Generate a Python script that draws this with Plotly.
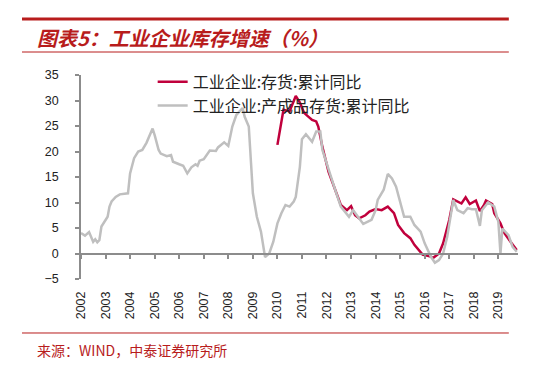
import plotly.graph_objects as go

# ---------------- data ----------------
grey_dates = ["2002-01","2002-03","2002-05","2002-07","2002-08","2002-09","2002-10","2002-11",
              "2003-02","2003-03","2003-04","2003-06","2003-08","2003-11","2003-12",
              "2004-01","2004-03","2004-05","2004-07","2004-09","2004-12",
              "2005-01","2005-03","2005-04","2005-07","2005-09","2005-10",
              "2006-01","2006-03","2006-05","2006-07","2006-09","2006-10","2006-11",
              "2007-01","2007-04","2007-07","2007-08","2007-11",
              "2008-01","2008-03","2008-05","2008-08","2008-09","2008-11",
              "2009-01","2009-03","2009-05","2009-06","2009-07","2009-09","2009-11",
              "2010-01","2010-03","2010-05","2010-07","2010-09","2010-10","2010-12",
              "2011-01","2011-03","2011-06","2011-08","2011-10","2011-11",
              "2012-02","2012-05","2012-08","2012-12",
              "2013-02","2013-05","2013-07","2013-11",
              "2014-01","2014-02","2014-05","2014-07","2014-09","2014-11",
              "2015-01","2015-03","2015-06","2015-08","2015-11",
              "2016-01","2016-04","2016-06","2016-08","2016-10","2016-12",
              "2017-03","2017-05","2017-08","2017-10","2017-12",
              "2018-02","2018-04","2018-05","2018-08","2018-11",
              "2019-01","2019-02","2019-03","2019-06","2019-08","2019-10"]
grey_values = [4.0,3.5,4.2,2.3,2.8,2.2,2.6,5.3,
               7.2,9.2,10.2,11.1,11.6,11.8,11.8,
               15.7,18.7,20.0,20.3,21.7,24.5,
               23.2,20.3,19.6,19.1,19.3,18.0,
               17.5,17.2,15.7,16.9,17.5,17.2,18.2,
               18.5,20.2,20.1,20.8,21.8,
               21.1,24.9,27.2,28.5,26.8,24.9,
               11.8,7.2,4.3,1.3,-0.7,0.0,2.3,
               5.9,7.9,9.5,9.2,10.2,11.1,17.0,
               22.4,23.4,21.9,23.9,23.9,20.3,
               16.4,12.8,9.2,7.2,
               8.5,6.9,5.8,6.6,
               8.5,10.5,12.5,15.6,14.7,13.1,
               9.8,7.2,7.2,5.6,4.3,
               2.0,-0.6,-1.8,-1.3,0.0,3.3,
               10.5,8.5,7.9,8.9,8.7,
               8.7,5.4,8.5,10.0,9.2,
               6.2,0.0,4.9,3.6,1.3,0.35]

red_dates = ["2010-01","2010-04","2010-07","2010-10","2010-12",
             "2011-02","2011-04","2011-06","2011-08","2011-09","2011-11",
             "2012-02","2012-05","2012-08","2012-11",
             "2013-01","2013-03","2013-05","2013-08","2013-10",
             "2014-01","2014-04","2014-07","2014-10","2014-12",
             "2015-03","2015-06","2015-08","2015-12",
             "2016-04","2016-05","2016-08","2016-10",
             "2017-01","2017-03","2017-05","2017-07","2017-09","2017-11",
             "2018-02","2018-04","2018-06","2018-07","2018-10","2018-11",
             "2019-02","2019-04","2019-07","2019-10"]
red_values = [21.3,28.2,27.9,30.9,29.6,
              27.6,26.9,26.2,25.9,24.9,20.9,
              16.0,12.8,9.5,8.5,
              9.3,7.5,6.9,7.5,8.2,
              8.7,8.5,9.2,7.9,5.6,
              4.0,3.0,1.7,-0.2,
              -0.6,-0.9,0.0,2.0,
              6.6,10.6,10.2,9.8,11.0,9.7,
              10.4,8.3,9.5,10.4,9.7,7.9,
              5.9,4.0,2.3,0.7]

red_name = "工业企业:存货:累计同比"
grey_name = "工业企业:产成品存货:累计同比"
title_text = "图表5：工业企业库存增速（%）"
source_text = "来源：WIND，中泰证券研究所"
y_ticks = [-5, 0, 5, 10, 15, 20, 25, 30, 35]

RED = "#C0003C"
GREY = "#BFBFBF"
AXIS = "#8C8C8C"
TITLE_RED = "#B81C1C"
CJK = "Noto Sans CJK SC"

fig = go.Figure()
fig.add_trace(go.Scatter(x=red_dates, y=red_values, name=red_name, mode="lines",
                         line=dict(color=RED, width=2.5), legendgroup="a"))
fig.add_trace(go.Scatter(x=grey_dates, y=grey_values, name=grey_name, mode="lines",
                         line=dict(color=GREY, width=2.5), legendgroup="b"))
# carrier for the zero-line axis (invisible)
fig.add_trace(go.Scatter(x=grey_dates, y=grey_values, xaxis="x2", mode="lines",
                         line=dict(width=0, color="rgba(0,0,0,0)"), showlegend=False,
                         hoverinfo="skip"))

xr = ["2002-01-01", "2019-10-20"]
fig.update_layout(
    template="none",
    width=551, height=371,
    margin=dict(l=81, r=33, t=75, b=92, autoexpand=False),
    paper_bgcolor="white", plot_bgcolor="white",
    showlegend=True,
    legend=dict(x=0.164, y=1.05, xanchor="left", yanchor="top",
                font=dict(family=CJK, size=16, color="#222"),
                bgcolor="rgba(0,0,0,0)", tracegroupgap=0, itemwidth=30),
    xaxis=dict(type="date", range=xr, tick0="2002-01-01", dtick="M12", tickformat="%Y",
               tickangle=-90, showline=False, ticks="", showgrid=False, zeroline=False,
               automargin=False,
               tickfont=dict(family="Liberation Sans, Arial", size=12.5, color="#222"),
               ticklabelstandoff=9),
    xaxis2=dict(type="date", range=xr, matches="x", overlaying="x", anchor="free",
                position=0.125, tick0="2002-01-01", dtick="M12", showticklabels=False,
                ticks="outside", ticklen=5, tickcolor=AXIS, tickwidth=1.5, automargin=False,
                showline=True, linecolor=AXIS, linewidth=1.5, showgrid=False, zeroline=False),
    yaxis=dict(range=[-5, 35], tickvals=y_ticks, showline=True, linecolor=AXIS, linewidth=1.5,
               ticks="outside", ticklen=4, tickcolor=AXIS, tickwidth=1.5,
               showgrid=False, zeroline=False, automargin=False,
               tickfont=dict(family="Liberation Sans, Arial", size=12.5, color="#222"),
               ticklabelstandoff=14),
)

# header / footer decoration
fig.add_shape(type="line", xref="paper", yref="paper", x0=-0.135, x1=0.979, y0=1.2745, y1=1.2745,
              line=dict(color=TITLE_RED, width=3))
fig.add_shape(type="line", xref="paper", yref="paper", x0=-0.135, x1=0.979, y0=1.1127, y1=1.1127,
              line=dict(color=TITLE_RED, width=1))
fig.add_shape(type="line", xref="paper", yref="paper", x0=-0.135, x1=0.979, y0=-0.2647, y1=-0.2647,
              line=dict(color=TITLE_RED, width=1))
fig.add_annotation(text=title_text, xref="paper", yref="paper", x=-0.1053, y=1.186,
                   xanchor="left", yanchor="middle", showarrow=False,
                   font=dict(family=CJK, size=20, color=TITLE_RED, weight="bold", style="italic"))
fig.add_annotation(text=source_text, xref="paper", yref="paper", x=-0.1053, y=-0.348,
                   xanchor="left", yanchor="middle", showarrow=False,
                   font=dict(family=CJK, size=14, color=TITLE_RED))

fig.write_html("out.html", config={"displayModeBar": False},
               post_script="document.body.style.margin='0';")
